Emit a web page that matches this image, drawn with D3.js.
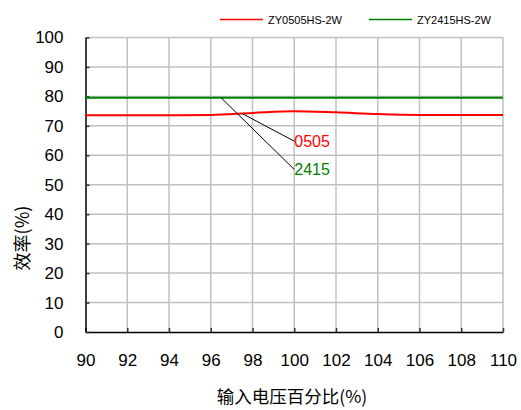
<!DOCTYPE html>
<html><head><meta charset="utf-8">
<script src="https://cdn.jsdelivr.net/npm/d3@7"></script>
<style>body{margin:0;background:#fff}svg{display:block}</style>
</head><body>
<script>
const xValues = [90, 92, 94, 96, 98, 100, 102, 104, 106, 108, 110];
const series0505 = [73.6, 73.6, 73.6, 73.7, 74.4, 75.0, 74.6, 74.0, 73.7, 73.7, 73.7];
const series2415 = [79.5, 79.5, 79.5, 79.5, 79.5, 79.5, 79.5, 79.5, 79.5, 79.5, 79.5];
const seriesNames = ["ZY0505HS-2W", "ZY2415HS-2W"];
const xTicks = [90, 92, 94, 96, 98, 100, 102, 104, 106, 108, 110];
const yTicks = [0, 10, 20, 30, 40, 50, 60, 70, 80, 90, 100];
const annotations = [
  {label: "0505", from: [97.5, 74.2], to: [100, 64.8], color: "#ff0000"},
  {label: "2415", from: [96.5, 79.5], to: [100, 55.2], color: "#008000"}
];

const W = 521, H = 410;
const L = 85.5, R = 503, T = 37.5, B = 332;
const font = "'Liberation Sans', Arial, sans-serif";
const cjk = "'Noto Sans CJK SC', sans-serif";

const svg = d3.select("body").append("svg").attr("width", W).attr("height", H);
const x = d3.scaleLinear().domain([90, 110]).range([L, R]);
const y = d3.scaleLinear().domain([0, 100]).range([B, T]);

// grid
const g = svg.append("g");
g.selectAll(".vg").data(xTicks.slice(1)).join("line")
  .attr("x1", d => x(d)).attr("x2", d => x(d)).attr("y1", T).attr("y2", B)
  .attr("stroke", "#c0c0c0").attr("stroke-width", 1.5);
g.selectAll(".hg").data(yTicks.slice(1)).join("line")
  .attr("x1", L).attr("x2", R).attr("y1", d => y(d)).attr("y2", d => y(d))
  .attr("stroke", "#c0c0c0").attr("stroke-width", 1.5);

// axes
const xAxis = d3.axisBottom(x).tickValues(xTicks).tickSizeInner(-4).tickSizeOuter(0).tickFormat(d3.format("d"));
const xg = svg.append("g").attr("transform", `translate(0,${B})`).call(xAxis);
xg.select(".domain").attr("stroke", "#000").attr("stroke-width", 1.5);
xg.selectAll(".tick line").attr("stroke", "#333").attr("stroke-width", 1.5);
xg.selectAll(".tick text").attr("font-family", font).attr("font-size", 17).attr("fill", "#000").attr("y", 22).attr("dy", "0.71em");

const yAxis = d3.axisLeft(y).tickValues(yTicks).tickSizeInner(-4).tickSizeOuter(0);
const yg = svg.append("g").attr("transform", `translate(${L},0)`).call(yAxis);
yg.select(".domain").attr("stroke", "#000").attr("stroke-width", 1.5);
yg.selectAll(".tick line").attr("stroke", "#333").attr("stroke-width", 1.5);
yg.selectAll(".tick text").attr("font-family", font).attr("font-size", 17).attr("fill", "#000").attr("x", -22);

// lines
const line = d3.line().x(d => x(d[0])).y(d => y(d[1])).curve(d3.curveMonotoneX);
svg.append("path").datum(xValues.map((v, i) => [v, series2415[i]]))
  .attr("d", line).attr("fill", "none").attr("stroke", "#008000").attr("stroke-width", 2);
svg.append("path").datum(xValues.map((v, i) => [v, series0505[i]]))
  .attr("d", line).attr("fill", "none").attr("stroke", "#ff0000").attr("stroke-width", 2);

// annotations
annotations.forEach(a => {
  svg.append("line").attr("x1", x(a.from[0])).attr("y1", y(a.from[1]))
    .attr("x2", x(a.to[0])).attr("y2", y(a.to[1]))
    .attr("stroke", "#000").attr("stroke-width", 1);
  svg.append("text").attr("x", x(a.to[0])).attr("y", y(a.to[1]) + 6)
    .attr("font-family", font).attr("font-size", 16).attr("fill", a.color).text(a.label);
});

// legend
const legend = [{name: seriesNames[0], color: "#ff0000", x0: 220}, {name: seriesNames[1], color: "#008000", x0: 369}];
legend.forEach(l => {
  svg.append("line").attr("x1", l.x0).attr("x2", l.x0 + 43).attr("y1", 19.5).attr("y2", 19.5)
    .attr("stroke", l.color).attr("stroke-width", 1.5);
  svg.append("text").attr("x", l.x0 + 48).attr("y", 23.5).attr("font-family", font)
    .attr("font-size", 11).attr("fill", "#000").text(l.name);
});

// titles
svg.append("text").attr("x", 292).attr("y", 403).attr("text-anchor", "middle")
  .attr("font-family", cjk).attr("font-size", 17.5).attr("fill", "#000").text("输入电压百分比(%)");
svg.append("text").attr("transform", "translate(29,238) rotate(-90)").attr("text-anchor", "middle")
  .attr("font-family", cjk).attr("font-size", 18).attr("fill", "#000").text("效率(%)");
</script>
</body></html>
